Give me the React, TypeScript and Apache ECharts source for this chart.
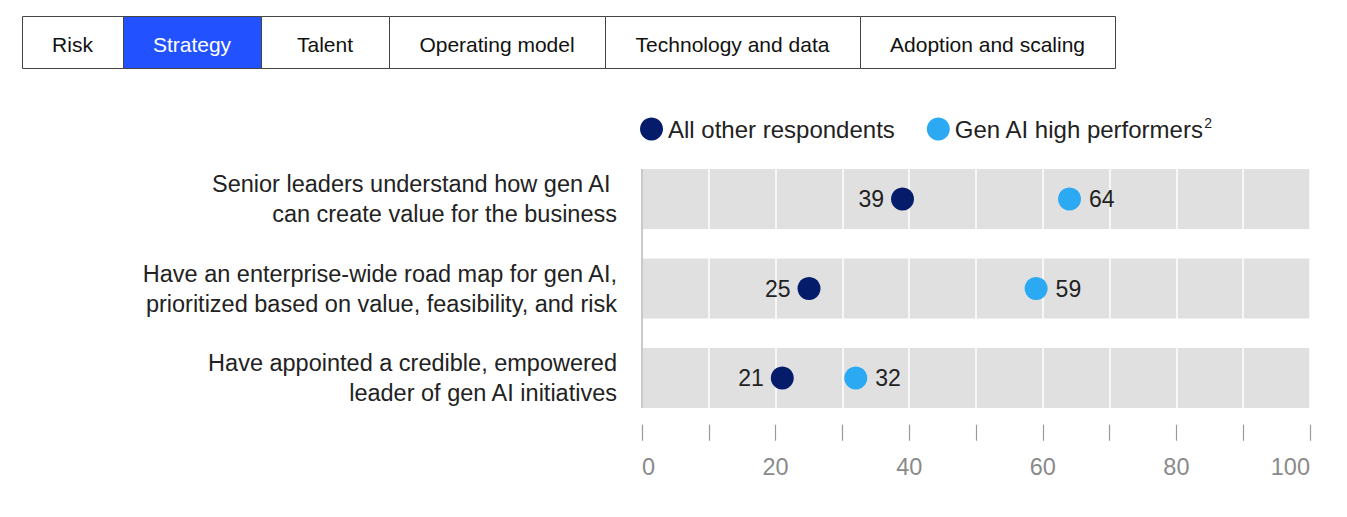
import React, { useEffect, useRef } from "react";
import * as echarts from "echarts";

const tabs = ["Risk", "Strategy", "Talent", "Operating model", "Technology and data", "Adoption and scaling"];
const activeTab = "Strategy";
const categories = [
  "Senior leaders understand how gen AI \ncan create value for the business",
  "Have an enterprise-wide road map for gen AI,\nprioritized based on value, feasibility, and risk",
  "Have appointed a credible, empowered\nleader of gen AI initiatives",
];
const seriesNames = ["All other respondents", "Gen AI high performers"];
const allOther = [39, 25, 21];
const highPerformers = [64, 59, 32];
const xTicks = [0, 20, 40, 60, 80, 100];

// layout (not data)
const tabEdges = [22, 123, 261, 389, 605, 860, 1115];
const BAND = 60;
const FONT = "'Liberation Sans', Arial, sans-serif";
const NAVY = "#051C6B";
const SKY = "#2BA9F2";

export default function App() {
  const ref = useRef<HTMLDivElement>(null);
  useEffect(() => {
    document.body.style.margin = "0";
    const chart = echarts.init(ref.current!, undefined, { renderer: "svg" });

    const tabGraphics: any[] = [];
    tabs.forEach((t, i) => {
      const x0 = tabEdges[i];
      const x1 = tabEdges[i + 1];
      const active = t === activeTab;
      tabGraphics.push({
        type: "rect",
        shape: { x: x0 + 0.5, y: 16.5, width: x1 - x0, height: 52 },
        style: { fill: active ? "#2251FF" : "#fff", stroke: "#444", lineWidth: 1 },
        z: 1,
      });
      tabGraphics.push({
        type: "text",
        x: (x0 + x1) / 2,
        y: 44,
        style: {
          text: t,
          fill: active ? "#fff" : "#111",
          fontSize: 21,
          fontFamily: FONT,
          align: "center",
          verticalAlign: "middle",
        },
        z: 2,
      });
    });

    chart.setOption({
      animation: false,
      textStyle: { fontFamily: FONT },
      graphic: tabGraphics,
      legend: {
        left: 640,
        top: 116,
        padding: 0,
        itemGap: 32,
        itemWidth: 23,
        itemHeight: 23,
        icon: "circle",
        data: seriesNames,
        formatter: (name: string) => (name === seriesNames[1] ? name + "{sup|2}" : name),
        textStyle: {
          fontSize: 24,
          color: "#222",
          fontFamily: FONT,
          rich: { sup: { fontSize: 14, verticalAlign: "top", color: "#222", padding: [0, 0, 12, 0] } },
        },
      },
      grid: { left: 642, right: 37, top: 154.25, height: 268.5 },
      xAxis: {
        type: "value",
        min: 0,
        max: 100,
        interval: 10,
        z: 3,
        offset: 2,
        axisLine: { show: false },
        axisTick: { show: true, length: 16, lineStyle: { color: "#9a9a9a", width: 1.2 } },
        splitLine: { show: true, lineStyle: { color: "#ffffff", width: 1.5 } },
        axisLabel: {
          margin: 30,
          fontSize: 23.5,
          color: "#8a8a8a",
          alignMaxLabel: "right",
          alignMinLabel: "left",
          formatter: (v: number) => (xTicks.includes(v) ? String(v) : ""),
        },
      },
      yAxis: {
        type: "category",
        inverse: true,
        data: categories,
        z: 4,
        axisLine: { show: false },
        axisTick: { show: false },
        axisLabel: { margin: 25, fontSize: 23.5, lineHeight: 30, color: "#222", align: "right" },
      },
      series: [
        {
          type: "bar",
          data: categories.map(() => 100),
          barWidth: BAND,
          silent: true,
          itemStyle: { color: "#E0E0E0" },
          z: 1,
          legendHoverLink: false,
        },
        {
          name: seriesNames[0],
          type: "scatter",
          symbolSize: 23,
          z: 10,
          itemStyle: { color: NAVY, opacity: 1 },
          data: allOther.map((v, i) => [v, categories[i]]),
          label: { show: true, position: "left", distance: 7, fontSize: 23, color: "#222", formatter: (p: any) => String(p.value[0]) },
        },
        {
          name: seriesNames[1],
          type: "scatter",
          symbolSize: 23,
          z: 10,
          itemStyle: { color: SKY, opacity: 1 },
          data: highPerformers.map((v, i) => [v, categories[i]]),
          label: { show: true, position: "right", distance: 8, fontSize: 23, color: "#222", formatter: (p: any) => String(p.value[0]) },
        },
      ],
    });

    // left axis line spanning from first band top to last band bottom
    const x0 = chart.convertToPixel({ xAxisIndex: 0 }, 0) as number;
    const yTop = (chart.convertToPixel({ yAxisIndex: 0 }, categories[0]) as number) - BAND / 2;
    const yBot = (chart.convertToPixel({ yAxisIndex: 0 }, categories[categories.length - 1]) as number) + BAND / 2;
    chart.setOption({
      graphic: [
        ...tabGraphics,
        {
          type: "line",
          shape: { x1: x0, y1: yTop, x2: x0, y2: yBot },
          style: { stroke: "#b8b8b8", lineWidth: 1.5 },
          z: 20,
        },
      ],
    });
    return () => chart.dispose();
  }, []);
  return <div ref={ref} style={{ width: 1347, height: 517, position: "absolute", left: 0, top: 0 }} />;
}
